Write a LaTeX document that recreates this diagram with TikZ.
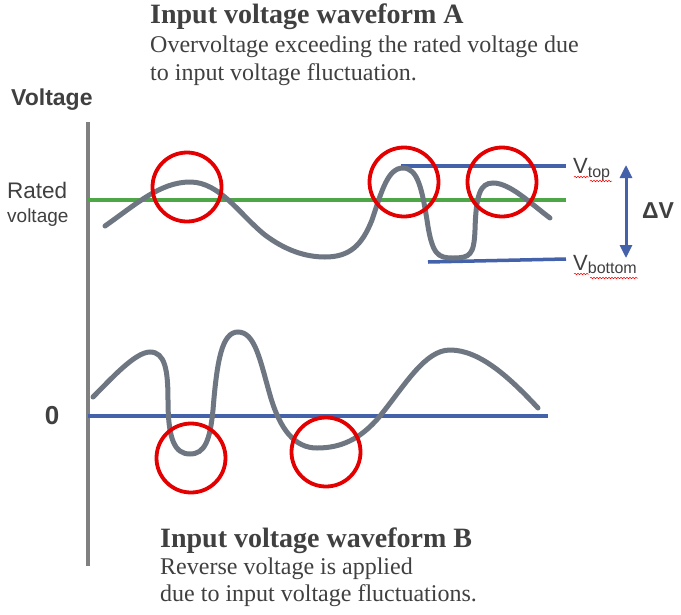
\documentclass[tikz,border=0pt]{standalone}
\usepackage{fontspec}
\setmainfont{Liberation Serif}
\newfontfamily\sansf{Liberation Sans}
\usetikzlibrary{arrows.meta,decorations.pathmorphing}
\definecolor{txt}{RGB}{64,64,64}
\definecolor{axisgray}{RGB}{128,128,128}
\definecolor{wave}{RGB}{110,118,130}
\definecolor{rated}{RGB}{78,167,70}
\definecolor{bluel}{RGB}{68,98,170}
\definecolor{redc}{RGB}{228,0,0}
\begin{document}
\begin{tikzpicture}[x=1pt,y=-1pt,
  ring/.style={circle,draw=redc,line width=3.8pt,minimum size=69pt,inner sep=0pt},
  wavepath/.style={draw=wave,line width=5pt,line cap=round},
  title/.style={anchor=base west,inner sep=0pt,text=txt,font=\fontsize{28}{28}\selectfont\bfseries},
  body/.style={anchor=base west,inner sep=0pt,text=txt,font=\fontsize{24}{24}\selectfont},
  lab/.style={inner sep=0pt,text=txt},
  squig/.style={draw=red,line width=0.5pt,decorate,decoration={snake,amplitude=0.8pt,segment length=3pt}}]
\useasboundingbox (0,0) rectangle (681,614);
\fill[white] (0,0) rectangle (681,614);

% axis
\coordinate (axtop) at (88,122);
\coordinate (axbot) at (88,566);
\draw[axisgray,line width=4pt] (axtop) -- (axbot);

% reference lines
\coordinate (g1) at (88,200); \coordinate (g2) at (566,200);
\draw[rated,line width=4pt] (g1) -- (g2);
\coordinate (t1) at (401,166); \coordinate (t2) at (566,166);
\draw[bluel,line width=3.5pt] (t1) -- (t2);
\coordinate (b1) at (428,262); \coordinate (b2) at (566,259);
\draw[bluel,line width=3.5pt] (b1) -- (b2);
\coordinate (z1) at (88,416); \coordinate (z2) at (548,416);
\draw[bluel,line width=3.5pt] (z1) -- (z2);

% waveform A
\draw[wavepath] (105,226) .. controls (135,205) and (160,182) .. (190,182)
  .. controls (220,182) and (240,215) .. (265,235)
  .. controls (285,250) and (305,257) .. (325,257)
  .. controls (350,257) and (362,245) .. (372,220)
  .. controls (382,190) and (388,168) .. (403,168)
  .. controls (418,168) and (422,190) .. (427,220)
  .. controls (432,255) and (438,258) .. (453,258)
  .. controls (470,258) and (474,255) .. (475,230)
  .. controls (476,195) and (480,183) .. (493,183)
  .. controls (510,183) and (530,203) .. (550,218);

% waveform B
\draw[wavepath] (93,397) .. controls (110,380) and (135,352) .. (150,352)
  .. controls (165,352) and (168,370) .. (168,400)
  .. controls (168,440) and (175,454) .. (190,454)
  .. controls (205,454) and (210,440) .. (213,410)
  .. controls (217,360) and (222,332) .. (238,332)
  .. controls (255,332) and (260,360) .. (270,395)
  .. controls (280,430) and (295,448) .. (317,448)
  .. controls (340,448) and (360,440) .. (380,416)
  .. controls (405,385) and (425,350) .. (450,350)
  .. controls (480,350) and (510,378) .. (538,408);

% circles
\node[ring] (c1) at (187,187) {};
\node[ring] (c2) at (404,182) {};
\node[ring] (c3) at (502,182) {};
\node[ring] (c4) at (191,458) {};
\node[ring] (c5) at (326,452) {};

% delta V arrow
\coordinate (arT) at (626,165);
\coordinate (arB) at (626,258);
\draw[bluel,line width=3pt,{Triangle[width=12pt,length=13pt]}-{Triangle[width=12pt,length=13pt]}] (arT) -- (arB);
\node[lab,anchor=base west,font=\sansf\bfseries\fontsize{23}{23}\selectfont] (dv) at (642,218) {ΔV};

% V top / bottom labels
\node[lab,anchor=base west,font=\sansf\fontsize{22}{22}\selectfont] (vt) at (573,173) {V\raisebox{-4pt}{\fontsize{16}{16}\selectfont top}};
\node[lab,anchor=base west,font=\sansf\fontsize{22}{22}\selectfont] (vb) at (573,270) {V\raisebox{-3pt}{\fontsize{16}{16}\selectfont bottom}};
\draw[squig] (574,177) -- (589,177);
\draw[squig] (590,181) -- (612,181);
\draw[squig] (574,274) -- (589,274);
\draw[squig] (590,278) -- (638,278);

% axis labels
\node[lab,anchor=base west,font=\sansf\bfseries\fontsize{23}{23}\selectfont] (vol) at (11,105) {Voltage};
\node[lab,anchor=base west,font=\sansf\fontsize{22.5}{22.5}\selectfont] (rt) at (7,198) {Rated};
\node[lab,anchor=base west,font=\sansf\fontsize{19}{19}\selectfont] (rv) at (7,222) {voltage};
\node[lab,anchor=base,font=\sansf\bfseries\fontsize{26}{26}\selectfont] (zero) at (52,424) {0};

% texts
\node[title] (ta) at (150,23) {Input voltage waveform A};
\node[body] (ta1) at (150,52) {Overvoltage exceeding the rated voltage due};
\node[body] (ta2) at (150,80) {to input voltage fluctuation.};
\node[title] (tb) at (160,547) {Input voltage waveform B};
\node[body] (tb1) at (160,574) {Reverse voltage is applied};
\node[body] (tb2) at (160,601) {due to input voltage fluctuations.};
\end{tikzpicture}
\end{document}
